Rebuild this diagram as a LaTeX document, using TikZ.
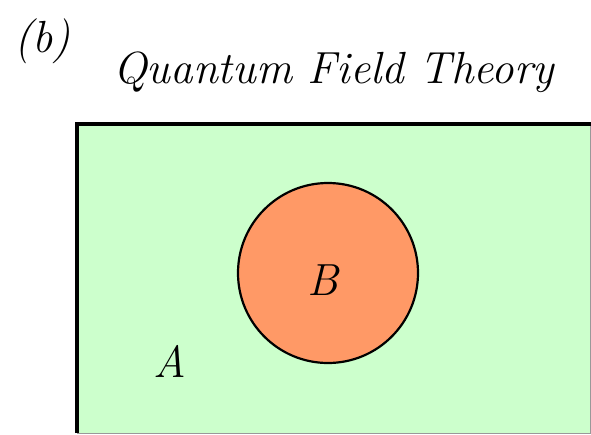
\documentclass[tikz,border=0pt]{standalone}
\usepackage{fontspec}
\usetikzlibrary{positioning}
\definecolor{qftgreen}{HTML}{CCFFCC}
\definecolor{qftorange}{HTML}{FF9966}
\definecolor{qftedge}{HTML}{999999}
\tikzset{
  lbl/.style={font=\fontsize{45}{54}\selectfont\rmfamily\itshape,inner sep=0pt},
  region/.style={circle,draw=black,line width=2.2pt,fill=qftorange,minimum size=180pt,inner sep=0pt},
}
\begin{document}
\begin{tikzpicture}[x=1pt,y=-1pt]
  \useasboundingbox (0,0) rectangle (591,434);
  % theory box
  \fill[qftgreen] (77,124) rectangle (590,433);
  \draw[qftedge,line width=1pt] (590,124) -- (590,433) -- (77,433);
  \draw[black,line width=3.5pt] (77,433) -- (77,124) -- (591,124);
  % labels
  \node[lbl,anchor=base west] (tag) at (14,52) {(b)};
  \node[lbl,anchor=base west] (title) at (113,83) {Quantum Field Theory};
  \node[region] (B) at (328,273) {};
  \node[lbl,anchor=base] (Blbl) at (323,295) {B};
  \node[lbl,anchor=base] (Albl) at (170,377) {A};
\end{tikzpicture}
\end{document}
